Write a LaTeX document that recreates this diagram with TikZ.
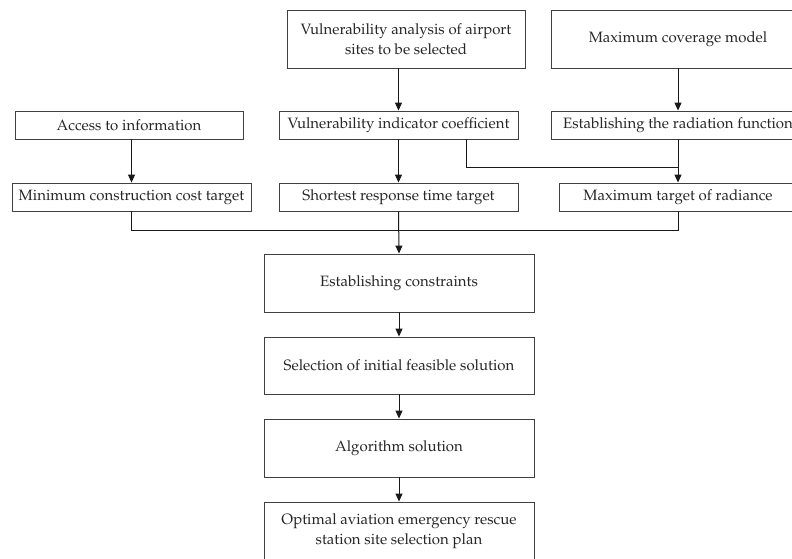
\documentclass[tikz,border=0pt]{standalone}
\usepackage[T1]{fontenc}
\usepackage{mathpazo}
\usetikzlibrary{arrows.meta}
\tikzset{
  box/.style={draw=black!75, line width=0.9pt, fill=white, inner sep=0pt,
    align=center, font=\fontsize{15}{20}\selectfont, text=black!85},
  link/.style={line width=1pt, black!90},
  arrowlink/.style={link, -{Triangle[length=8pt,width=7pt]}}
}
\begin{document}
\begin{tikzpicture}[x=1pt,y=-1pt]
\useasboundingbox (0,0) rectangle (792,558);
\clip (0,0) rectangle (792,558);
\fill[white] (0,0) rectangle (792,558);

% top row
\node[box, minimum width=238pt, minimum height=58pt] (va) at (406,39)
  {Vulnerability analysis of airport\\sites to be selected};
\node[box, minimum width=254pt, minimum height=58pt] (mcm) at (678,39)
  {Maximum coverage model};

% second row
\node[box, minimum width=228pt, minimum height=28pt] (acc) at (129,125)
  {Access to information};
\node[box, minimum width=239pt, minimum height=28pt] (vi) at (398.5,125)
  {Vulnerability indicator coefficient};
\node[box, minimum width=254pt, minimum height=28pt] (rf) at (678,125)
  {Establishing the radiation function};

% third row: targets
\node[box, minimum width=239pt, minimum height=28pt] (mc) at (131.5,197)
  {Minimum construction cost target};
\node[box, minimum width=239pt, minimum height=28pt] (sr) at (398.5,197)
  {Shortest response time target};
\node[box, minimum width=238pt, minimum height=28pt] (mr) at (678,197)
  {Maximum target of radiance};

% main chain
\node[box, minimum width=270pt, minimum height=58pt] (ec) at (399,283)
  {Establishing constraints};
\node[box, minimum width=270pt, minimum height=57pt] (sel) at (399,365.5)
  {Selection of initial feasible solution};
\node[box, minimum width=270pt, minimum height=58pt] (alg) at (399,448)
  {Algorithm solution};
\node[box, minimum width=270pt, minimum height=58pt] (opt) at (399,531)
  {Optimal aviation emergency rescue\\station site selection plan};

% vertical arrows in the upper part
\draw[arrowlink] (va.south -| vi.north) -- (vi.north);
\draw[arrowlink] (mcm.south) -- (rf.north);
\draw[arrowlink] (acc.south -| mc.north) -- (mc.north);
\draw[arrowlink] (vi.south) -- (sr.north);
\draw[arrowlink] (rf.south) -- (mr.north);

% vulnerability coefficient also feeds the radiance target
\coordinate (vibranch) at (466,139);
\coordinate (vijoin) at (466,167);
\draw[link] (vibranch) -- (vijoin) -- (vijoin -| mr.north);

% the three targets merge into the constraints
\coordinate (bus) at (399,230);
\draw[link] (mc.south) -- (bus -| mc.south) -- (bus -| mr.south) -- (mr.south);
\draw[arrowlink] (sr.south) -- (ec.north);

% main chain arrows
\draw[arrowlink] (ec) -- (sel);
\draw[arrowlink] (sel) -- (alg);
\draw[arrowlink] (alg) -- (opt);
\end{tikzpicture}
\end{document}
